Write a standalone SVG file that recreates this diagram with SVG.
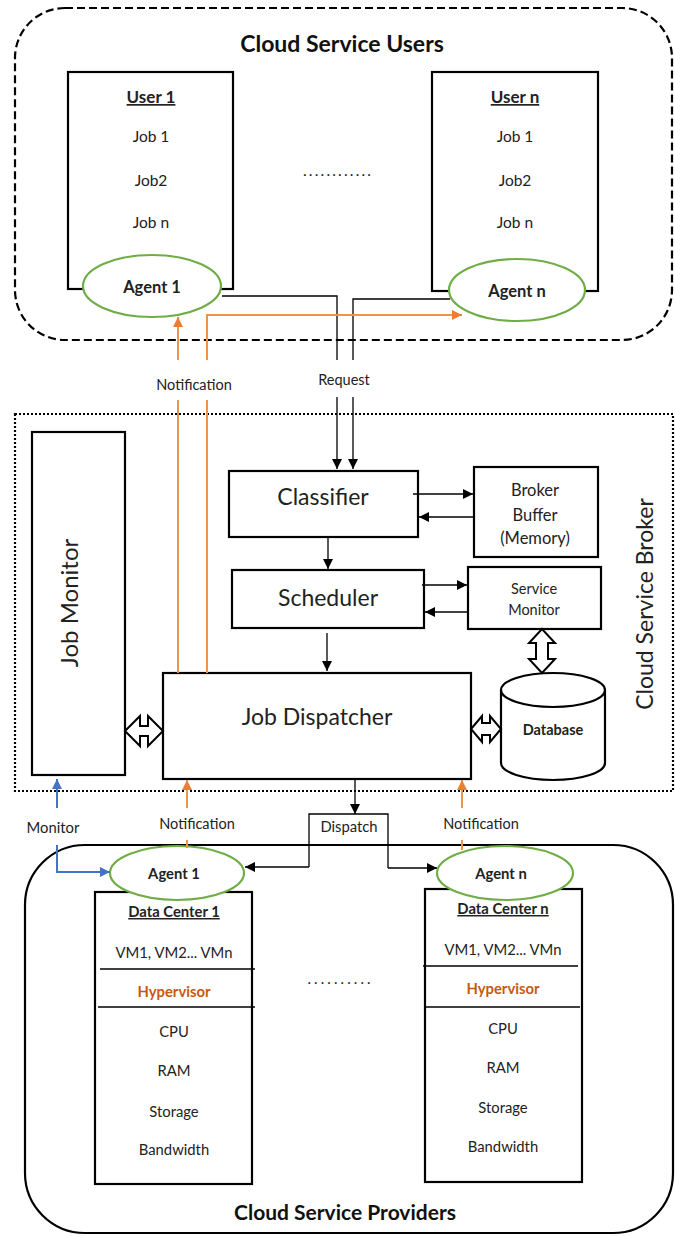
<svg xmlns="http://www.w3.org/2000/svg" width="675" height="1236" viewBox="0 0 675 1236">
<style>
text{font-family:Lato,"Liberation Sans",sans-serif;fill:#222;text-anchor:middle}
.box{fill:#fff;stroke:#000;stroke-width:2.2}
.agent{fill:#fff;stroke:#70AD47;stroke-width:2.2}
.title{font-size:22px;font-weight:bold;fill:#111}
.big{font-size:23px}
.t15{font-size:15.5px}
.t14{font-size:14.8px}
.t12{font-size:14.5px}
.b{font-weight:bold}
.u{text-decoration:underline}
.hyp{fill:#C65911;font-weight:bold}
.blk{fill:none;stroke:#000;stroke-width:1.3}
.org{fill:none;stroke:#E9944F;stroke-width:2}
.blu{fill:none;stroke:#4472C4;stroke-width:2}
.dbl{fill:#fff;stroke:#000;stroke-width:2}
</style>
<defs>
<marker id="ab" viewBox="0 0 10 10" refX="10" refY="5" markerWidth="10" markerHeight="10" markerUnits="userSpaceOnUse" orient="auto"><path d="M0,0 L10,5 L0,10 Z" fill="#000"/></marker>
<marker id="ao" viewBox="0 0 10 10" refX="10" refY="5" markerWidth="10" markerHeight="10" markerUnits="userSpaceOnUse" orient="auto"><path d="M0,0 L10,5 L0,10 Z" fill="#ED7D31"/></marker>
<marker id="abl" viewBox="0 0 10 10" refX="10" refY="5" markerWidth="10" markerHeight="10" markerUnits="userSpaceOnUse" orient="auto"><path d="M0,0 L10,5 L0,10 Z" fill="#4472C4"/></marker>
</defs>

<!-- containers -->
<g id="users-group">
<rect x="15" y="8" width="657" height="332" rx="50" fill="none" stroke="#000" stroke-width="2.2" stroke-dasharray="8 4"/>
<text class="title" style="font-size:23px" x="342" y="52">Cloud Service Users</text>
</g>
<g id="broker-group">
<rect x="15" y="414" width="658" height="377" fill="none" stroke="#000" stroke-width="2.2" stroke-dasharray="2 2"/>
<text class="big" transform="translate(653,604) rotate(-90)">Cloud Service Broker</text>
</g>
<g id="providers-group">
<rect x="25" y="845" width="648" height="388" rx="60" fill="none" stroke="#000" stroke-width="2.2"/>
<text class="title" style="font-size:21px" x="345" y="1220">Cloud Service Providers</text>
</g>

<!-- users -->
<g id="user1">
<rect class="box" x="68" y="72" width="165" height="217"/>
<text class="b u" style="font-size:17px" x="151" y="103">User 1</text>
<text class="t15" x="151" y="142">Job 1</text>
<text class="t15" x="151" y="186">Job2</text>
<text class="t15" x="151" y="228">Job n</text>
</g>
<g id="agent1-top">
<ellipse class="agent" cx="152" cy="286" rx="69" ry="31"/>
<text class="b" style="font-size:16.5px" x="152" y="293">Agent 1</text>
</g>
<g id="usern">
<rect class="box" x="432" y="72" width="166" height="219"/>
<text class="b u" style="font-size:17px" x="515" y="103">User n</text>
<text class="t15" x="515" y="142">Job 1</text>
<text class="t15" x="515" y="186">Job2</text>
<text class="t15" x="515" y="228">Job n</text>
</g>
<g id="agentn-top">
<ellipse class="agent" cx="517" cy="290" rx="68" ry="31"/>
<text class="b" style="font-size:16.5px" x="517" y="297">Agent n</text>
</g>
<text class="t15" x="337" y="176" textLength="68" lengthAdjust="spacing">............</text>

<!-- broker -->
<g id="job-monitor">
<rect class="box" x="32" y="432" width="93" height="343"/>
<text class="big" style="font-size:24px" transform="translate(78,603) rotate(-90)">Job Monitor</text>
</g>
<g id="classifier">
<rect class="box" x="229" y="471" width="189" height="66"/>
<text class="big" x="323" y="505">Classifier</text>
</g>
<g id="scheduler">
<rect class="box" x="232" y="570" width="192" height="58"/>
<text class="big" x="328" y="606">Scheduler</text>
</g>
<g id="job-dispatcher">
<rect class="box" x="163" y="673" width="308" height="106"/>
<text class="big" x="317" y="725">Job Dispatcher</text>
</g>
<g id="broker-buffer">
<rect class="box" x="474" y="467" width="124" height="90"/>
<text style="font-size:16.5px" x="535" y="496">Broker</text>
<text style="font-size:16.5px" x="535" y="521">Buffer</text>
<text style="font-size:16.5px" x="535" y="544">(Memory)</text>
</g>
<g id="service-monitor">
<rect class="box" x="468" y="567" width="133" height="62"/>
<text class="t12" x="534" y="594">Service</text>
<text class="t12" x="534" y="615">Monitor</text>
</g>
<g id="database">
<path d="M501,690 L501,763 A52,17 0 0 0 605,763 L605,690" fill="#fff" stroke="#000" stroke-width="2.2"/>
<ellipse cx="553" cy="690" rx="52" ry="17" fill="#fff" stroke="#000" stroke-width="2.2"/>
<text class="t12 b" x="553" y="735">Database</text>
</g>

<!-- providers -->
<g id="datacenter1">
<rect class="box" x="95" y="892" width="157" height="292"/>
<text class="t14 b u" x="174" y="917">Data Center 1</text>
<text class="t14" x="174" y="958">VM1, VM2... VMn</text>
<line x1="100" y1="969" x2="255" y2="969" stroke="#000" stroke-width="1.3"/>
<text class="t14 hyp" x="174" y="997">Hypervisor</text>
<line x1="98" y1="1007" x2="255" y2="1007" stroke="#000" stroke-width="1.3"/>
<text class="t14" x="174" y="1037">CPU</text>
<text class="t14" x="174" y="1076">RAM</text>
<text class="t14" x="174" y="1117">Storage</text>
<text class="t14" x="174" y="1155">Bandwidth</text>
</g>
<g id="agent1-bottom">
<ellipse class="agent" cx="177" cy="873" rx="67" ry="27"/>
<text class="b t14" x="174" y="879">Agent 1</text>
</g>
<g id="datacentern">
<rect class="box" x="425" y="889" width="157" height="293"/>
<text class="t14 b u" x="503" y="914">Data Center n</text>
<text class="t14" x="503" y="955">VM1, VM2... VMn</text>
<line x1="423" y1="966" x2="578" y2="966" stroke="#000" stroke-width="1.3"/>
<text class="t14 hyp" x="503" y="994">Hypervisor</text>
<line x1="425" y1="1007" x2="580" y2="1007" stroke="#000" stroke-width="1.3"/>
<text class="t14" x="503" y="1034">CPU</text>
<text class="t14" x="503" y="1073">RAM</text>
<text class="t14" x="503" y="1113">Storage</text>
<text class="t14" x="503" y="1152">Bandwidth</text>
</g>
<g id="agentn-bottom">
<ellipse class="agent" cx="505" cy="873" rx="68" ry="27"/>
<text class="b t14" x="501" y="879">Agent n</text>
</g>
<text class="t14" x="339" y="984" textLength="63" lengthAdjust="spacing">..........</text>

<!-- connectors -->
<g id="connectors">
<polyline class="blk" points="222,296 337,296 337,360"/>
<polyline class="blk" points="450,299 353,299 353,360"/>
<text class="t12" x="344" y="385">Request</text>
<line class="blk" x1="337" y1="397" x2="337" y2="469" marker-end="url(#ab)"/>
<line class="blk" x1="353" y1="397" x2="353" y2="469" marker-end="url(#ab)"/>
<line class="org" x1="178" y1="360" x2="178" y2="317" marker-end="url(#ao)"/>
<polyline class="org" points="207,360 207,315 462,315" marker-end="url(#ao)"/>
<text class="t12" x="194" y="390">Notification</text>
<line class="org" x1="178" y1="400" x2="178" y2="673"/>
<line class="org" x1="207" y1="400" x2="207" y2="673"/>
<line class="blk" x1="328" y1="538" x2="328" y2="569" marker-end="url(#ab)"/>
<line class="blk" x1="327" y1="633" x2="327" y2="671" marker-end="url(#ab)"/>
<line class="blk" x1="413" y1="494" x2="473" y2="494" marker-end="url(#ab)"/>
<line class="blk" x1="474" y1="517" x2="419" y2="517" marker-end="url(#ab)"/>
<line class="blk" x1="422" y1="585" x2="467" y2="585" marker-end="url(#ab)"/>
<line class="blk" x1="468" y1="612" x2="425" y2="612" marker-end="url(#ab)"/>
<path class="dbl" d="M125,731 L140,716 L140,726 L148,726 L148,716 L163,731 L148,746 L148,736 L140,736 L140,746 Z"/>
<path class="dbl" d="M471,729 L482,716 L482,723 L490,723 L490,716 L501,729 L490,742 L490,735 L482,735 L482,742 Z"/>
<path class="dbl" d="M542,629 L555,643 L548,643 L548,659 L555,659 L542,673 L529,659 L536,659 L536,643 L529,643 Z"/>
<line class="blu" x1="57" y1="808" x2="57" y2="779" marker-end="url(#abl)"/>
<text class="t14" x="53" y="833">Monitor</text>
<polyline class="blu" points="57,845 57,872 110,872" marker-end="url(#abl)"/>
<line class="org" x1="187" y1="808" x2="187" y2="780" marker-end="url(#ao)"/>
<text class="t12" x="197" y="829">Notification</text>
<line class="org" x1="187" y1="840" x2="187" y2="848"/>
<line class="org" x1="462" y1="808" x2="462" y2="780" marker-end="url(#ao)"/>
<text class="t12" x="481" y="829">Notification</text>
<line class="org" x1="462" y1="840" x2="462" y2="850"/>
<line class="blk" x1="355" y1="779" x2="355" y2="814" marker-end="url(#ab)"/>
<polyline class="blk" points="309,867 309,814 388,814 388,868"/>
<text class="t14" x="349" y="832">Dispatch</text>
<polyline class="blk" points="309,867 245,867" marker-end="url(#ab)"/>
<polyline class="blk" points="388,868 437,868" marker-end="url(#ab)"/>
</g>
</svg>
